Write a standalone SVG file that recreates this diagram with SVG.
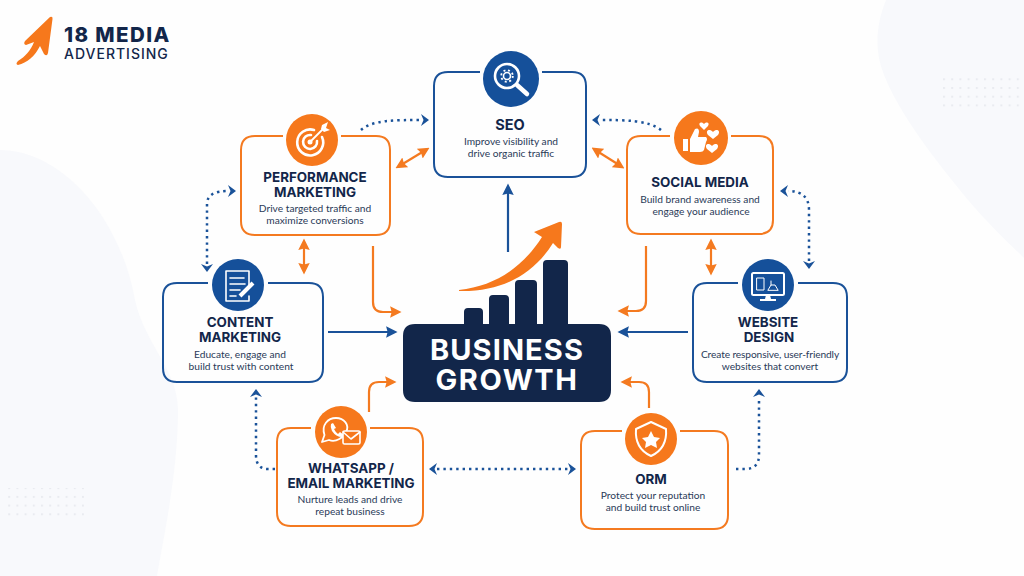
<svg xmlns="http://www.w3.org/2000/svg" width="1024" height="576" viewBox="0 0 1024 576">
<style>
.h{font-family:"Inter","Liberation Sans",sans-serif;font-weight:700;font-size:13.4px;fill:#12264a;text-anchor:middle}
.d{font-family:"Lato","Liberation Sans",sans-serif;font-size:10.2px;fill:#2a3a58;text-anchor:middle}
.bo{fill:none;stroke:#f47a20;stroke-width:2}
.bb{fill:none;stroke:#1a5299;stroke-width:2}
.co{fill:#f6781c}.cb{fill:#15509a}
.w{fill:none;stroke:#fff;stroke-width:1.6;stroke-linejoin:round;stroke-linecap:round}
.wf{fill:#fff}
.lo{fill:none;stroke:#f47a20;stroke-width:2.2}
.lb{fill:none;stroke:#1a5299;stroke-width:2.2}
.ld{fill:none;stroke:#1a5299;stroke-width:2.5;stroke-dasharray:2.4 4}
.hb{fill:#1a5299}
.g{font-family:"Inter","Liberation Sans",sans-serif;font-weight:700;font-size:29px;fill:#fff;text-anchor:middle;letter-spacing:1.1px}
</style>
<defs>
<marker id="ao" markerWidth="5.2" markerHeight="5.2" refX="3.6" refY="2.6" orient="auto-start-reverse" markerUnits="strokeWidth" viewBox="0 0 5.2 5.2"><path d="M0 0L5.2 2.6L0 5.2L.7 2.6Z" fill="#f47a20"/></marker>
<marker id="ab" markerWidth="5.2" markerHeight="5.2" refX="3.6" refY="2.6" orient="auto-start-reverse" markerUnits="strokeWidth" viewBox="0 0 5.2 5.2"><path d="M0 0L5.2 2.6L0 5.2L.7 2.6Z" fill="#1a5299"/></marker>
<pattern id="dots" width="8.2" height="8.7" patternUnits="userSpaceOnUse"><rect x="0" y="0" width="2" height="2" fill="#e9ebf0"/></pattern>
</defs>
<rect width="1024" height="576" fill="#fefefe"/>
<path d="M886 0C876 25 874 50 884 75C900 115 935 160 968 200C985 220 1005 240 1024 258V0Z" fill="#f8f9fc"/>
<path d="M0 150C60 150 120 215 135 300C145 345 178 370 178 410C178 470 165 530 157 576H0Z" fill="#f8f9fc"/>
<rect x="941" y="74" width="83" height="35" fill="url(#dots)"/>
<rect x="6" y="488" width="78" height="30" fill="url(#dots)"/>

<g id="logo">
<path d="M50 17Q53 16 52.500 19L48 53Q47 57 44 54L40 46C35 56 27 63 18 65Q15 64 18 61C25 57 31 50 34 42L26 45Q23 44 25 41Z" fill="#f6781c"/>
<text x="64" y="41.500" font-family="Inter,'Liberation Sans',sans-serif" font-weight="800" font-size="20.5" letter-spacing="1.400" fill="#12264a">18 MEDIA</text>
<text x="64" y="58.500" font-family="Inter,'Liberation Sans',sans-serif" font-weight="500" font-size="14" letter-spacing="1" fill="#12264a">ADVERTISING</text>
</g>

<g id="connectors">
<path class="lb" d="M508 252V187" marker-end="url(#ab)"/>
<path class="lo" d="M398.500 166.500L426.500 149.500" marker-start="url(#ao)" marker-end="url(#ao)"/>
<path class="lo" d="M594.500 149.500L621.500 166.500" marker-start="url(#ao)" marker-end="url(#ao)"/>
<path class="lo" d="M304 242V271" marker-start="url(#ao)" marker-end="url(#ao)"/>
<path class="lo" d="M711 242V272" marker-start="url(#ao)" marker-end="url(#ao)"/>
<path class="lo" d="M373 246V302Q373 312 383 312H398" marker-end="url(#ao)"/>
<path class="lo" d="M646 246V301Q646 311 636 311H621" marker-end="url(#ao)"/>
<path class="lb" d="M328 332H394" marker-end="url(#ab)"/>
<path class="lb" d="M688 332H621" marker-end="url(#ab)"/>
<path class="lo" d="M369 412V392Q369 382 379 382H393" marker-end="url(#ao)"/>
<path class="lo" d="M649 408V392Q649 382 639 382H624" marker-end="url(#ao)"/>
<path class="ld" d="M361 130C372 120 395 120 422 120"/>
<path class="hb" d="M421 114L429 120L421 126L423.500 120Z"/>
<path class="ld" d="M661 130C648 120 625 120 600 120"/>
<path class="hb" d="M600 114L592 120L600 126L597.500 120Z"/>
<path class="ld" d="M207 264V204Q207 191 228 191"/>
<path class="hb" d="M228 185L236 191L228 197L230.500 191Z"/>
<path class="hb" d="M201 264L207 272L213 264L207 266.500Z"/>
<path class="ld" d="M809 261V210Q809 191 788 191"/>
<path class="hb" d="M788 185L780 191L788 197L785.500 191Z"/>
<path class="hb" d="M803 261L809 269L815 261L809 263.500Z"/>
<path class="ld" d="M275 469H268Q256 469 256 455V397"/>
<path class="hb" d="M250 397L256 389L262 397L256 394.500Z"/>
<path class="ld" d="M736 469H745Q759 469 759 455V397"/>
<path class="hb" d="M753 397L759 389L765 397L759 394.500Z"/>
<path class="ld" d="M437 469H568"/>
<path class="hb" d="M437 463L429 469L437 475L434.500 469Z"/>
<path class="hb" d="M568 463L576 469L568 475L570.500 469Z"/>
</g>

<g id="seo">
<path class="bb" d="M480 72H448Q434 72 434 86V163Q434 177 448 177H572Q586 177 586 163V86Q586 72 572 72H542"/>
<circle class="cb" cx="511" cy="79" r="28"/>
<circle class="w" cx="507" cy="76" r="12" style="stroke-width:2.600"/>
<circle class="w" cx="507" cy="76" r="3.500" style="stroke-width:1.600"/>
<circle cx="507" cy="76" r="5.800" fill="none" stroke="#fff" stroke-width="1.800" stroke-dasharray="2 2.600"/>
<path d="M517 85L527 94" stroke="#fff" stroke-width="4.500" stroke-linecap="round"/>
<text class="h" x="510" y="130" style="font-size:14.500px">SEO</text>
<text class="d" x="511" y="145">Improve visibility and</text>
<text class="d" x="511" y="157">drive organic traffic</text>
</g>

<g id="performance">
<path class="bo" d="M283 136H255Q241 136 241 150V221Q241 235 255 235H376Q390 235 390 221V150Q390 136 376 136H341"/>
<circle class="co" cx="312" cy="140" r="26"/>
<path class="w" style="stroke-width:2.600" d="M322 137A13 13 0 1 1 314 130"/>
<path class="w" style="stroke-width:2.600" d="M317 141A7 7 0 1 1 311 135"/>
<circle class="wf" cx="310" cy="142" r="2.500"/>
<path d="M310 142L323 129" stroke="#fff" stroke-width="1.800"/>
<path d="M322 125L328 122L326 128L330 130L324 132L321 129Z" class="wf"/>
<text class="h" x="315" y="182">PERFORMANCE</text>
<text class="h" x="315" y="197">MARKETING</text>
<text class="d" x="315" y="212">Drive targeted traffic and</text>
<text class="d" x="315" y="224">maximize conversions</text>
</g>

<g id="social">
<path class="bo" d="M670 136H641Q627 136 627 150V220Q627 234 641 234H759Q773 234 773 220V150Q773 136 759 136H731"/>
<circle class="co" cx="701" cy="138" r="27"/>
<path class="wf" d="M683 139H688V151H683ZM690 139L695 129Q699 127 699 132L698 137H706Q708 139 706 142L704 150Q703 152 700 152H690Z"/>
<path class="wf" d="M704 124C701 121 698 123 700 126L704 130L708 126C710 123 707 121 704 124Z"/>
<path class="wf" d="M713 132C709 128 705 131 708 135L713 139L718 135C721 131 717 128 713 132Z"/>
<path class="wf" d="M712 146C708 142 704 145 707 149L712 153L717 149C720 145 716 142 712 146Z"/>
<text class="h" x="700" y="187">SOCIAL MEDIA</text>
<text class="d" x="700" y="203">Build brand awareness and</text>
<text class="d" x="701" y="215">engage your audience</text>
</g>

<g id="content">
<path class="bb" d="M208 283H177Q163 283 163 297V368Q163 382 177 382H309Q323 382 323 368V297Q323 283 309 283H268"/>
<circle class="cb" cx="238" cy="285" r="26"/>
<path class="w" d="M249 285V271H226V301H249V296"/>
<path class="w" d="M230 278H244M230 284H245M230 290H240M230 296H236"/>
<path d="M240 296L253 283" stroke="#fff" stroke-width="4"/>
<text class="h" x="240" y="327">CONTENT</text>
<text class="h" x="240" y="342">MARKETING</text>
<text class="d" x="240" y="358">Educate, engage and</text>
<text class="d" x="241" y="370">build trust with content</text>
</g>

<g id="website">
<path class="bb" d="M738 283H707Q693 283 693 297V368Q693 382 707 382H833Q847 382 847 368V297Q847 283 833 283H798"/>
<circle class="cb" cx="768" cy="285" r="26"/>
<rect x="752" y="273" width="32" height="22" rx="1.500" fill="none" stroke="#fff" stroke-width="2"/>
<path class="wf" d="M766 295H770L771 299H776V301H760V299H765Z"/>
<path class="w" style="stroke-width:1" d="M757 278H764V290H757ZM771 281V285M768 290L771 285L775 285L778 290Z"/>
<text class="h" x="768" y="327">WEBSITE</text>
<text class="h" x="769" y="342">DESIGN</text>
<text class="d" x="770" y="358" style="letter-spacing:-.12px">Create responsive, user-friendly</text>
<text class="d" x="770" y="370">websites that convert</text>
</g>

<g id="whatsapp">
<path class="bo" d="M311 428H291Q277 428 277 442V512Q277 526 291 526H409Q423 526 423 512V442Q423 428 409 428H370"/>
<circle class="co" cx="341" cy="432" r="26"/>
<path class="w" style="stroke-width:1.800" d="M322 442L324.500 435C321 425 328 418 336 418C344 418 350 425 346 432C344 437 336 443 329 440Z"/>
<path class="wf" d="M331 424L333 423L336 428L334 429Q336 433 338 434L340 432L344 435L342 437Q336 437 332 431Q330 427 331 424Z"/>
<rect x="343" y="431" width="17" height="13" rx="1.500" fill="#f6781c" stroke="#fff" stroke-width="1.600"/>
<path class="w" d="M343 432L351 439L360 432"/>
<text class="h" x="351" y="473">WHATSAPP /</text>
<text class="h" x="351" y="488">EMAIL MARKETING</text>
<text class="d" x="350" y="503">Nurture leads and drive</text>
<text class="d" x="350" y="515">repeat business</text>
</g>

<g id="orm">
<path class="bo" d="M622 431H595Q581 431 581 445V515Q581 529 595 529H714Q728 529 728 515V445Q728 431 714 431H680"/>
<circle class="co" cx="651" cy="439" r="26"/>
<path class="w" style="stroke-width:2" d="M651 422L666 429C667 442 662 451 651 456C640 451 635 442 636 429Z"/>
<path class="wf" d="M651 431L654 437L660 438L656 442L657 448L651 445L645 448L646 442L642 438L648 437Z"/>
<text class="h" x="651" y="484">ORM</text>
<text class="d" x="653" y="499">Protect your reputation</text>
<text class="d" x="653" y="511">and build trust online</text>
</g>

<g id="growth">
<path fill="#12264a" d="M415 324H464V312Q464 308 468 308H479Q483 308 483 312V324H489V299Q489 295 493 295H505Q509 295 509 299V324H515V284Q515 280 519 280H533Q537 280 537 284V324H543V264Q543 260 547 260H564Q568 260 568 264V324H599Q611 324 611 336V390Q611 402 599 402H415Q403 402 403 390V336Q403 324 415 324Z"/>
<path fill="#f6781c" d="M459 290C495 286 522 268 542 237L534 232L559 222Q562 221 562 224L561 247Q561 250 558 248L553 243C535 272 505 292 459 291Z"/>
<text class="g" x="507" y="360">BUSINESS</text>
<text class="g" x="507" y="390" style="letter-spacing:1.600px">GROWTH</text>
</g>
</svg>
